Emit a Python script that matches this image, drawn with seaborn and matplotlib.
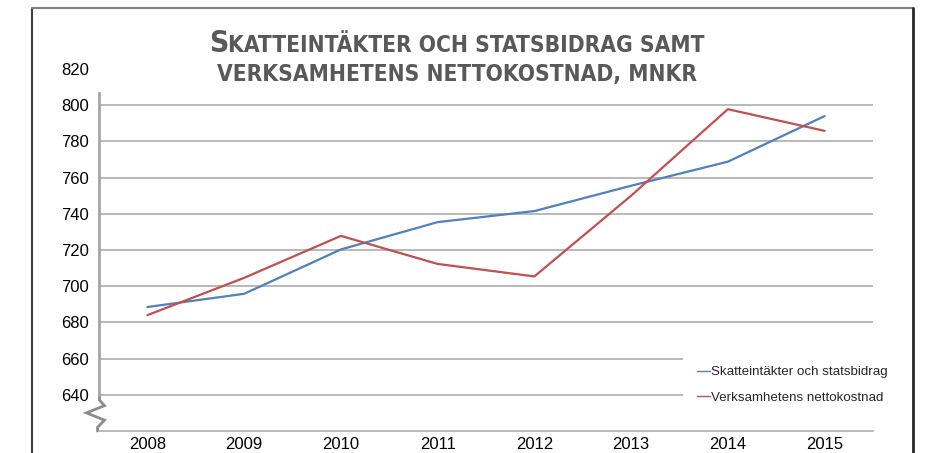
import matplotlib
matplotlib.use("Agg")
import matplotlib.pyplot as plt
import matplotlib.transforms as mtrans
from matplotlib import font_manager
from matplotlib.font_manager import FontProperties
import seaborn as sns
import pandas as pd

years = ["2008", "2009", "2010", "2011", "2012", "2013", "2014", "2015"]
skatt = [688.5, 695.8, 720.3, 735.4, 741.5, 755.5, 768.8, 794.0]
netto = [684.0, 704.6, 727.8, 712.3, 705.4, 750.0, 797.8, 785.8]
series_names = ["Skatteintäkter och statsbidrag", "Verksamhetens nettokostnad"]
yticks = [640, 660, 680, 700, 720, 740, 760, 780, 800, 820]

df = pd.DataFrame({
    "year": years * 2,
    "value": skatt + netto,
    "series": [series_names[0]] * len(years) + [series_names[1]] * len(years),
})

sns.set_theme(style="white")
plt.rcParams["font.family"] = ["Liberation Sans", "DejaVu Sans"]

# pick a condensed bold font for the title if one is installed
cands = []
for f in font_manager.fontManager.ttflist:
    fn = f.fname.lower()
    if ("narrow" in fn or "condensed" in fn) and ("bold" in fn) and ("oblique" not in fn) \
            and ("italic" not in fn):
        score = 0 if "liberationsansnarrow" in fn.replace("-", "") else (1 if "arial" in fn else 2)
        cands.append((score, f.fname))
if cands:
    cands.sort()
    title_kw = dict(fontproperties=FontProperties(fname=cands[0][1]))
    big, small = 21.5, 16.3
else:
    title_kw = dict(family=["Liberation Sans", "DejaVu Sans"], fontweight="bold")
    big, small = 22, 16

W, H = 928, 453
fig = plt.figure(figsize=(W / 100, H / 100), dpi=100)
fig.patch.set_facecolor("white")
ax = fig.add_axes([99 / W, 1 - 431 / H, (873 - 99) / W, (431 - 69) / H])

palette = {series_names[0]: "#4f81bd", series_names[1]: "#c0504d"}
sns.lineplot(data=df, x="year", y="value", hue="series", palette=palette,
             sort=False, linewidth=1.6, ax=ax, legend=True)

ax.set_xlim(-0.5, len(years) - 0.5)
ax.set_ylim(620, 820)
ax.set_yticks(yticks)
ax.set_yticklabels([str(v) for v in yticks], fontsize=12, color="#000000")
ax.tick_params(axis="x", labelsize=12, colors="#000000", length=0, pad=4)
ax.tick_params(axis="y", length=0, pad=7)
ax.set_xlabel("")
ax.set_ylabel("")
for v in yticks[:-1]:
    ax.axhline(v, color="#a6a6a6", linewidth=1.1, zorder=0)
for s in ["top", "right"]:
    ax.spines[s].set_visible(False)
ax.spines["bottom"].set_color("#a6a6a6")
ax.spines["bottom"].set_linewidth(1.1)
ax.spines["left"].set_color("#a6a6a6")
ax.spines["left"].set_linewidth(2)
ax.spines["left"].set_bounds(640, 807)

# axis break zigzag
bt = mtrans.blended_transform_factory(fig.transFigure, ax.transData)
x0 = 99.5 / W
zx = [x0, x0, x0 + 5 / W, x0 - 13 / W, x0 + 5 / W, x0 - 2 / W, x0 - 2 / W]
zy = [640, 637, 634, 630, 626, 622, 620]
ax.plot(zx, zy, transform=bt, color="#8c8c8c", linewidth=2, clip_on=False,
        solid_joinstyle="miter")

leg = ax.legend(loc="upper left", bbox_to_anchor=(683 / W, 1 - 352 / H),
                bbox_transform=fig.transFigure, frameon=True, fontsize=9.6,
                handlelength=0.95, handletextpad=0.12, labelspacing=0.98,
                borderpad=1.05, borderaxespad=0, fancybox=False)
leg.get_frame().set_facecolor("white")
leg.get_frame().set_edgecolor("none")
leg.get_frame().set_alpha(1)
for l in leg.get_lines():
    l.set_linewidth(1.0)
leg.set_zorder(5)

# outer frame
fig.add_artist(plt.Line2D([32 / W, 32 / W], [0, 1 - 9 / H], transform=fig.transFigure,
                          color="#404040", linewidth=1.5))
fig.add_artist(plt.Line2D([32 / W, 913 / W], [1 - 8 / H, 1 - 8 / H], transform=fig.transFigure,
                          color="#7f7f7f", linewidth=1.5))
fig.add_artist(plt.Line2D([913 / W, 913 / W], [0, 1 - 8 / H], transform=fig.transFigure,
                          color="#262626", linewidth=2))

# small-caps title
renderer = fig.canvas.get_renderer()
tcolor = "#595959"


def draw_line(pieces, center_px, baseline_px):
    texts = []
    for s, size in pieces:
        t = fig.text(0, 0, s, color=tcolor, va="baseline", ha="left", **title_kw)
        t.set_fontsize(size)
        texts.append(t)
    widths = [t.get_window_extent(renderer).width for t in texts]
    total = sum(widths)
    x = center_px - total / 2
    for t, w in zip(texts, widths):
        t.set_position((x / W, 1 - baseline_px / H))
        x += w


draw_line([("S", big), ("KATTEINTÄKTER OCH STATSBIDRAG SAMT", small)], 457, 52)
draw_line([("VERKSAMHETENS NETTOKOSTNAD, MNKR", small)], 457, 81)

fig.savefig("out.png", dpi=100, facecolor="white")
